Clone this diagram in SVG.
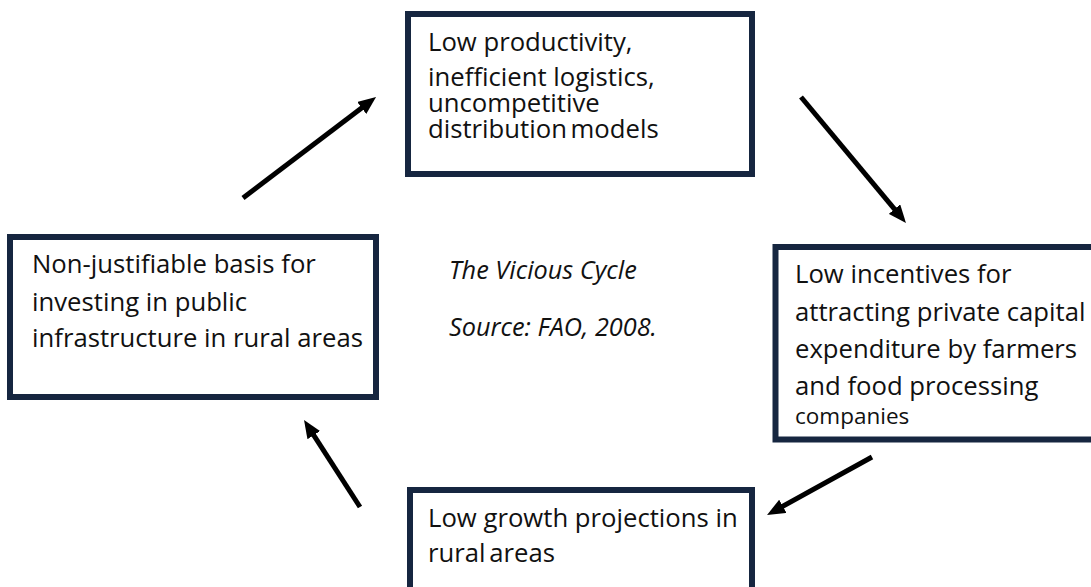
<svg xmlns="http://www.w3.org/2000/svg" width="1091" height="587" viewBox="0 0 1091 587">
  <style>
    .box { fill: #ffffff; stroke: #162640; stroke-width: 6; }
    .t { font-family: "Open Sans", "Noto Sans", "Liberation Sans", sans-serif; fill: #111111; font-size: 25.7px; }
    .small { font-size: 22.5px; }
    .it { font-style: italic; font-size: 25.3px; }
    .conn { stroke: #000000; stroke-width: 5; fill: none; marker-end: url(#head); }
  </style>
  <defs>
    <marker id="head" markerUnits="userSpaceOnUse" markerWidth="18" markerHeight="15" refX="4" refY="7.5" orient="auto">
      <path d="M0,0 L18,7.5 L0,15 z" fill="#000000"/>
    </marker>
  </defs>
  <rect width="1091" height="587" fill="#ffffff"/>

  <!-- cycle arrows -->
  <g id="connectors">
    <line class="conn" x1="243" y1="198" x2="364.9" y2="105.5"/>
    <line class="conn" x1="801" y1="97" x2="897.0" y2="212.2"/>
    <line class="conn" x1="872" y1="457" x2="779.3" y2="508.2"/>
    <line class="conn" x1="360" y1="507" x2="311.6" y2="431.8"/>
  </g>

  <g id="node-productivity">
    <rect class="box" x="408" y="14" width="344" height="160"/>
    <text class="t" x="428" y="51" font-size="25.5">Low productivity,</text>
    <text class="t" x="428" y="86" font-size="24.3">inefficient logistics,</text>
    <text class="t" x="428" y="112" font-size="25.5">uncompetitive</text>
    <text class="t" x="428" y="138" font-size="25.5" word-spacing="-3">distribution models</text>
  </g>

  <g id="node-incentives">
    <rect class="box" x="775.5" y="247" width="330" height="192.5"/>
    <text class="t" x="795" y="283">Low incentives for</text>
    <text class="t" x="795" y="321">attracting private capital</text>
    <text class="t" x="795" y="358">expenditure by farmers</text>
    <text class="t" x="795" y="395">and food processing</text>
    <text class="t small" x="795" y="424">companies</text>
  </g>

  <g id="node-growth">
    <rect class="box" x="410" y="490" width="342" height="120"/>
    <text class="t" x="428" y="527">Low growth projections in</text>
    <text class="t" x="428" y="562" word-spacing="-3">rural areas</text>
  </g>

  <g id="node-investment">
    <rect class="box" x="10" y="237" width="366" height="160"/>
    <text class="t" x="32" y="273">Non-justifiable basis for</text>
    <text class="t" x="32" y="311">investing in public</text>
    <text class="t" x="32" y="347">infrastructure in rural areas</text>
  </g>

  <g id="caption">
    <text class="t it" x="449" y="279">The Vicious Cycle</text>
    <text class="t it" x="449" y="336">Source: FAO, 2008.</text>
  </g>
</svg>
